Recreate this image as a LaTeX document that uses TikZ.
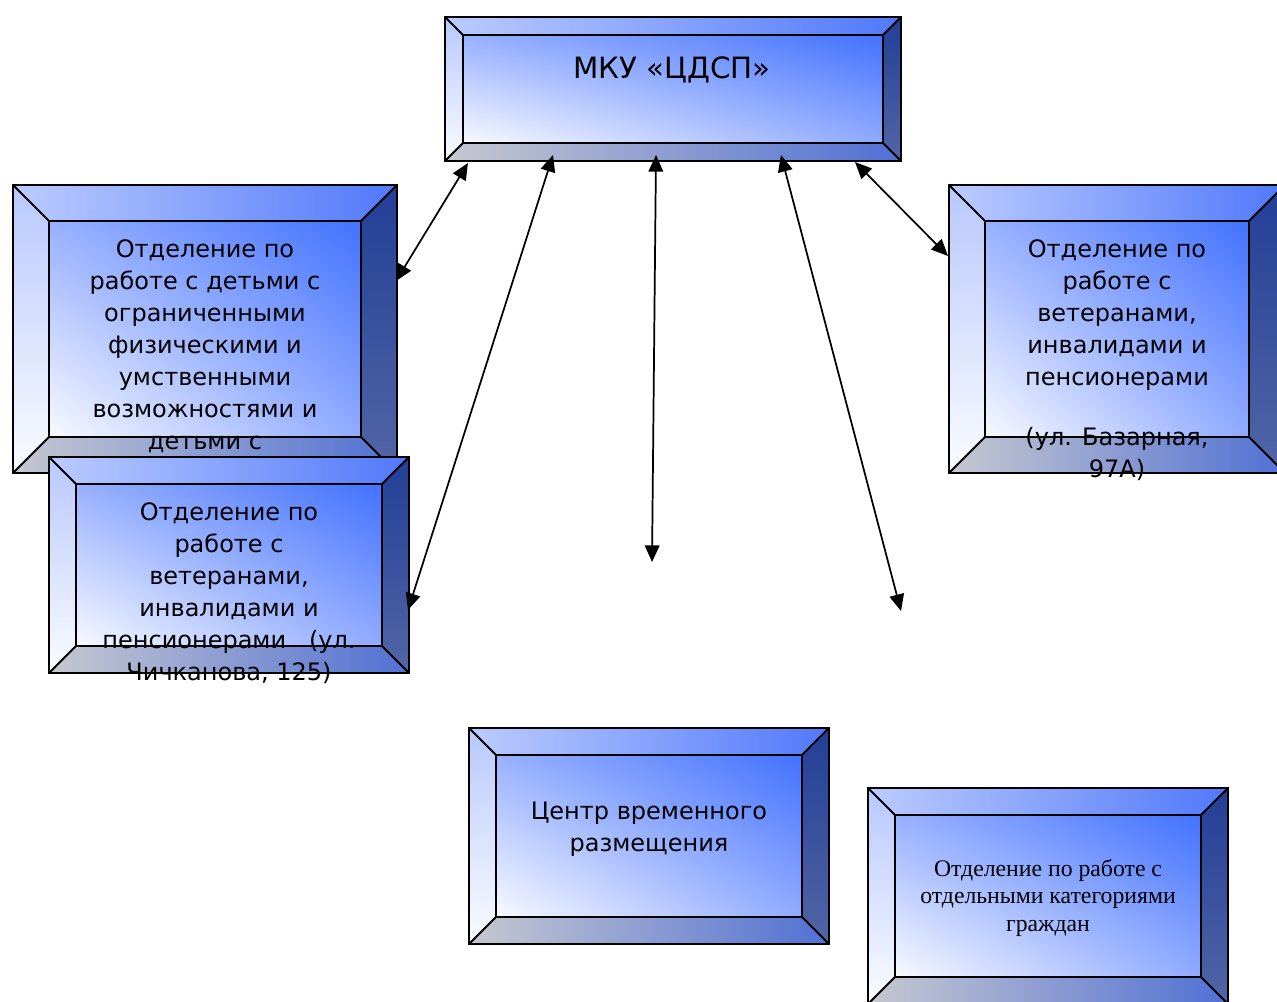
\documentclass[tikz,border=0pt]{standalone}
\usepackage{fontspec}
\setmainfont{DejaVu Sans}
\newfontfamily\serifru{Liberation Serif}
\usetikzlibrary{arrows.meta,shadings}
\definecolor{topL}{HTML}{BCCCFF}
\definecolor{topR}{HTML}{5078FA}
\definecolor{botL}{HTML}{C6C8D0}
\definecolor{botR}{HTML}{5070D4}
\definecolor{lefT}{HTML}{B8C8FF}
\definecolor{lefB}{HTML}{FAFCFF}
\definecolor{rigT}{HTML}{223E96}
\definecolor{rigB}{HTML}{5266A6}
\definecolor{inUL}{HTML}{98B0FF}
\definecolor{inUR}{HTML}{4272FF}
\definecolor{inLL}{HTML}{F8FAFF}
\definecolor{inLR}{HTML}{90AAFF}
\tikzset{
  boxline/.style={draw=black,line width=1.4pt,line join=miter},
  conn/.style={{Triangle[length=12.5pt,width=11pt]}-{Triangle[length=12.5pt,width=11pt]},line width=1.3pt},
  lbl/.style={align=center,inner sep=0pt,font=\fontsize{18pt}{24pt}\selectfont},
  lblserif/.style={align=center,inner sep=0pt,font=\serifru\fontsize{17.8pt}{20.6pt}\selectfont},
}
\newcommand{\bevelbox}[5]{%
  \pgfmathsetmacro{\bxA}{#1+#5}%
  \pgfmathsetmacro{\byA}{#2+#5}%
  \pgfmathsetmacro{\bxB}{#3-#5}%
  \pgfmathsetmacro{\byB}{#4-#5}%
  \shade[left color=topL,right color=topR] (#1,#2) -- (#3,#2) -- (\bxB,\byA) -- (\bxA,\byA) -- cycle;
  \shade[left color=botL,right color=botR] (#1,#4) -- (#3,#4) -- (\bxB,\byB) -- (\bxA,\byB) -- cycle;
  \shade[top color=lefT,bottom color=lefB] (#1,#2) -- (\bxA,\byA) -- (\bxA,\byB) -- (#1,#4) -- cycle;
  \shade[top color=rigT,bottom color=rigB] (#3,#2) -- (\bxB,\byA) -- (\bxB,\byB) -- (#3,#4) -- cycle;
  \shade[upper left=inUL,upper right=inUR,lower left=inLL,lower right=inLR] (\bxA,\byA) rectangle (\bxB,\byB);
  \draw[boxline] (#1,#2) rectangle (#3,#4) (\bxA,\byA) rectangle (\bxB,\byB)
    (#1,#2) -- (\bxA,\byA) (#3,#2) -- (\bxB,\byA) (#1,#4) -- (\bxA,\byB) (#3,#4) -- (\bxB,\byB);
}
\begin{document}
\begin{tikzpicture}[x=0.75pt,y=-0.75pt]
\useasboundingbox (0,0) rectangle (1277,1001);
\clip (0,0) rectangle (1277,1001);
% top box
\bevelbox{445}{17}{901}{161}{18}
\node[lbl,font=\fontsize{22pt}{26pt}\selectfont] (mku) at (672,70) {МКУ «ЦДСП»};
% left 1
\bevelbox{13}{185}{397}{473}{36}
\node[lbl] (deti) at (205,346.5) {Отделение по\\работе с детьми с\\ограниченными\\физическими и\\умственными\\возможностями и\\детьми с};
% left 2
\bevelbox{49}{457}{409}{673}{27}
\node[lbl] (vetch) at (229,593.5) {Отделение по\\работе с\\ветеранами,\\инвалидами и\\пенсионерами~~~(ул.\\Чичканова, 125)};
% right
\bevelbox{949}{185}{1285}{473}{36}
\node[lbl] (vetbaz) at (1117,360) {Отделение по\\работе с\\ветеранами,\\инвалидами и\\пенсионерами\\[21pt](ул. Базарная,\\97А)};
% center
\bevelbox{469}{728}{829}{944}{27}
\node[lbl] (centr) at (649,829.5) {Центр временного\\размещения};
% bottom right
\bevelbox{868}{788}{1228}{1004}{27}
\node[lblserif] (otdkat) at (1048,898) {Отделение по работе с\\отдельными категориями\\граждан};
% connectors
\coordinate (a1s) at (468,163);
\coordinate (a1e) at (396,281);
\coordinate (a2s) at (553,155);
\coordinate (a2e) at (408,610);
\coordinate (a3s) at (656,155);
\coordinate (a3e) at (652,562);
\coordinate (a4s) at (781,155);
\coordinate (a4e) at (901,611);
\coordinate (a5s) at (855,162);
\coordinate (a5e) at (948,256);
\draw[conn] (a1s) -- (a1e);
\draw[conn] (a2s) -- (a2e);
\draw[conn] (a3s) -- (a3e);
\draw[conn] (a4s) -- (a4e);
\draw[conn] (a5s) -- (a5e);
\end{tikzpicture}
\end{document}
